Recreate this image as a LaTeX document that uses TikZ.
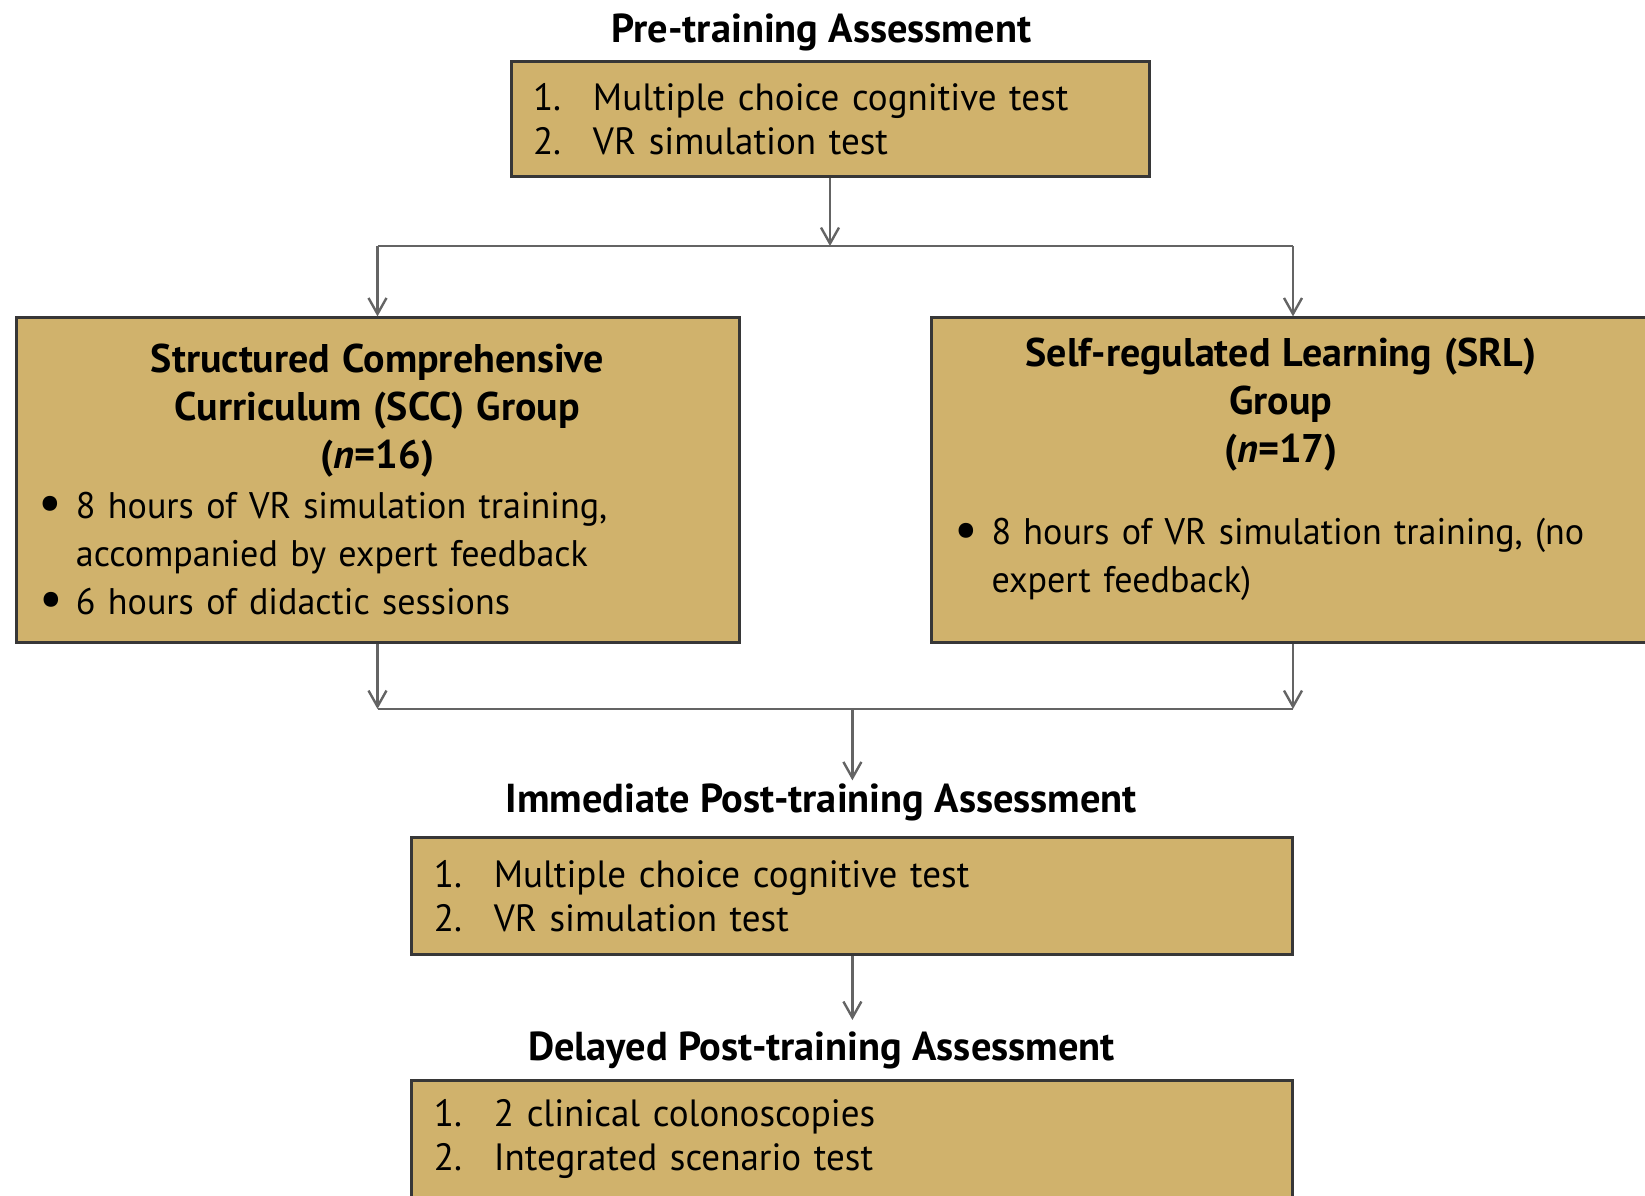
\documentclass[tikz,border=0pt]{standalone}
\usepackage{fontspec}
\setmainfont{PT Sans}[UprightFeatures={FakeStretch=0.975}, ItalicFeatures={FakeStretch=0.975}]
\usetikzlibrary{arrows.meta}
\setlength{\parindent}{0pt}
\definecolor{boxtan}{RGB}{208,178,108}
\definecolor{boxedge}{RGB}{55,55,55}
\definecolor{linkgray}{RGB}{100,100,100}
\newcommand{\numline}[2]{\makebox[30pt][l]{#1}#2}
\newcommand{\bulline}[1]{\par\hangindent=16pt\hangafter=1\makebox[16pt][l]{\hspace*{-2.5pt}\raisebox{-1.2pt}{\scalebox{1.45}{\textbullet}}}#1\par}
\newcommand{\grouphead}{\fontsize{20}{24}\selectfont\bfseries}
\newcommand{\headnudge}{\hspace*{-12pt}}
\tikzstyle{heading} = [font=\fontsize{20.2}{22}\selectfont\bfseries, inner sep=1.5pt]
\tikzstyle{testbox} = [rectangle, draw=boxedge, line width=1.5pt, fill=boxtan, align=left, inner xsep=11pt, font=\fontsize{19}{22}\selectfont]
\tikzstyle{groupbox} = [rectangle, draw=boxedge, line width=1.5pt, fill=boxtan, align=left, inner xsep=14pt, text width=333.5pt, minimum height=162.5pt, font=\fontsize{18.5}{24}\selectfont]
\tikzstyle{link} = [draw=linkgray, line width=1.2pt]
\tikzstyle{arrow} = [link, -{Straight Barb[length=8pt,width=9pt]}]

\begin{document}
\begin{tikzpicture}[node distance=45pt]
\useasboundingbox (0,0) rectangle (822.5pt,-597.5pt);
\node (pretitle) [heading] at (410.7pt,-16.2pt) {Pre-training Assessment};
\node (pretest) [testbox, text width=297pt, minimum height=57.5pt, below of = pretitle, xshift=4.3pt, yshift=1.5pt] {\numline{1.}{Multiple choice cognitive test}\\ \numline{2.}{VR simulation test}};
\node (scc) [groupbox, below of = pretest, xshift=-226.25pt, yshift=-135.5pt] {{\centering\grouphead Structured Comprehensive\\ Curriculum (SCC) Group\\ (\textit{n}=16)\par}\vspace{1pt}\bulline{8 hours of VR simulation training,\newline accompanied by expert feedback}\bulline{6 hours of didactic sessions}};
\node (srl) [groupbox, right of = scc, xshift=412.75pt] {{\centering\grouphead \headnudge Self-regulated Learning (SRL)\\ \headnudge Group\\ \headnudge(\textit{n}=17)\par}\vspace{17pt}\bulline{8 hours of VR simulation training, (no\newline expert feedback)\rule[-15pt]{0pt}{1pt}}};
\node (immtitle) [heading, below of = pretitle, yshift=-340pt] {Immediate Post-training Assessment};
\node (immtest) [testbox, text width=418.5pt, minimum height=58.5pt, below of = immtitle, xshift=15.5pt, yshift=-2pt] {\numline{1.}{Multiple choice cognitive test}\\ \numline{2.}{VR simulation test}};
\node (deltitle) [heading, below of = immtitle, yshift=-78.8pt] {Delayed Post-training Assessment};
\node (deltest) [testbox, text width=418.5pt, minimum height=58.5pt, below of = deltitle, xshift=15.5pt, yshift=0.5pt] {\numline{1.}{2 clinical colonoscopies}\\ \numline{2.}{Integrated scenario test}};
\coordinate (split) at (pretest.south |- 0,-123pt);
\coordinate (merge) at (0,-354.5pt);
% split into the two groups
\draw [arrow] (pretest) -- (split);
\draw [link] (split -| scc) -- (split -| srl);
\draw [arrow] (split -| scc) -- (scc);
\draw [arrow] (split -| srl) -- (srl);
% join again
\draw [arrow] (scc) -- (scc |- merge);
\draw [arrow] (srl) -- (srl |- merge);
\draw [link] (scc |- merge) -- (srl |- merge);
\draw [arrow] (immtest |- merge) -- (immtest |- immtitle.north);
\draw [arrow, shorten >=4pt] (immtest) -- (deltest |- deltitle.north);
\end{tikzpicture}
\end{document}
